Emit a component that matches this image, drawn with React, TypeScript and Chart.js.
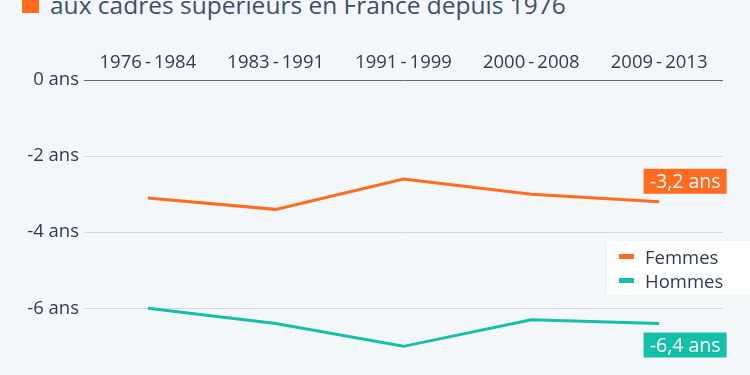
import React, { useEffect, useRef } from "react";
import { Chart, registerables } from "chart.js";

Chart.register(...registerables);

const categories = ["1976\u2009-\u20091984", "1983\u2009-\u20091991", "1991\u2009-\u20091999", "2000\u2009-\u20092008", "2009\u2009-\u20092013"];
const femmes = [-3.1, -3.4, -2.6, -3.0, -3.2];
const hommes = [-6.0, -6.4, -7.0, -6.3, -6.4];
const yTicks = [0, -2, -4, -6];
const seriesNames = ["Femmes", "Hommes"];
const endLabels = ["-3,2 ans", "-6,4 ans"];
const titleText = "aux cadres supérieurs en France depuis 1976";

const ORANGE = "#ff6b1f";
const TEAL = "#16bfa7";
const TEXT = "#2f3b50";
const FONT = "'Open Sans', 'Noto Sans', sans-serif";

const endLabelPlugin = {
  id: "endLabels",
  afterDatasetsDraw(chart: any) {
    const ctx = chart.ctx;
    ctx.save();
    chart.data.datasets.forEach((ds: any, i: number) => {
      const meta = chart.getDatasetMeta(i);
      const pt = meta.data[meta.data.length - 1];
      const w = 83;
      const h = 25;
      const cx = pt.x + 26;
      const top = i === 0 ? pt.y - 8 - h : pt.y + 9;
      ctx.fillStyle = ds.borderColor;
      ctx.fillRect(cx - w / 2, top, w, h);
      ctx.fillStyle = "#ffffff";
      ctx.font = `19.5px ${FONT}`;
      ctx.textAlign = "center";
      ctx.textBaseline = "middle";
      ctx.fillText(endLabels[i], cx, top + h / 2 + 1);
    });
    ctx.restore();
  },
};

export default function App() {
  const ref = useRef<HTMLCanvasElement>(null);

  useEffect(() => {
    document.body.style.margin = "0";
    const chart = new Chart(ref.current as HTMLCanvasElement, {
      type: "line",
      data: {
        labels: categories,
        datasets: [
          {
            label: seriesNames[0],
            data: femmes,
            borderColor: ORANGE,
            backgroundColor: ORANGE,
            borderWidth: 3,
            pointRadius: 0,
            tension: 0,
          },
          {
            label: seriesNames[1],
            data: hommes,
            borderColor: TEAL,
            backgroundColor: TEAL,
            borderWidth: 3,
            pointRadius: 0,
            tension: 0,
          },
        ],
      },
      options: {
        animation: false,
        responsive: true,
        maintainAspectRatio: false,
        layout: { padding: { left: 0, right: 27, top: 0, bottom: 0 } },
        plugins: {
          legend: { display: false },
          tooltip: { enabled: false },
        },
        scales: {
          x: {
            position: "top",
            offset: true,
            grid: { display: false, drawTicks: false },
            border: { display: false },
            ticks: {
              color: TEXT,
              font: { family: FONT, size: 18.5 },
              padding: 6,
              maxRotation: 0,
            },
            afterFit(scale: any) {
              scale.height = 80;
            },
          },
          y: {
            min: -7.33,
            max: 0,
            grid: {
              drawTicks: false,
              lineWidth: 1,
              color: (c: any) => (c.tick && c.tick.value === 0 ? "#5d6676" : "#d2d7de"),
            },
            border: { display: false },
            afterBuildTicks(scale: any) {
              scale.ticks = yTicks.map((v) => ({ value: v }));
            },
            ticks: {
              color: TEXT,
              font: { family: FONT, size: 18.5 },
              padding: 5,
              callback: (v: any) => `${v} ans`,
            },
            afterFit(scale: any) {
              scale.width = 84;
            },
          },
        },
      },
      plugins: [endLabelPlugin],
    });
    return () => chart.destroy();
  }, []);

  return (
    <div
      style={{
        position: "fixed",
        left: 0,
        top: 0,
        width: 750,
        height: 375,
        background: "#f4f7fa",
        overflow: "hidden",
        fontFamily: FONT,
      }}
    >
      <div
        style={{
          position: "absolute",
          left: 22,
          top: -4,
          width: 17,
          height: 17,
          background: ORANGE,
        }}
      />
      <div
        style={{
          position: "absolute",
          left: 50,
          top: -7,
          fontSize: 24.5,
          lineHeight: "24px",
          color: "#3e4f66",
          whiteSpace: "nowrap",
        }}
      >
        {titleText}
      </div>
      <div style={{ position: "absolute", left: 0, top: 0, width: 750, height: 375 }}>
        <canvas ref={ref} />
      </div>
      <div
        style={{
          position: "absolute",
          left: 607,
          top: 241,
          width: 143,
          height: 54,
          background: "#ffffff",
          boxShadow: "0 0 2px rgba(0,0,0,0.06)",
        }}
      >
        {seriesNames.map((n, i) => (
          <div
            key={n}
            style={{
              position: "absolute",
              left: 12,
              top: 3 + i * 24,
              height: 24,
              display: "flex",
              alignItems: "center",
              fontSize: 18.5,
              color: TEXT,
            }}
          >
            <span
              style={{
                display: "inline-block",
                width: 15,
                height: 5,
                background: i === 0 ? ORANGE : TEAL,
                marginRight: 11,
              }}
            />
            {n}
          </div>
        ))}
      </div>
    </div>
  );
}
